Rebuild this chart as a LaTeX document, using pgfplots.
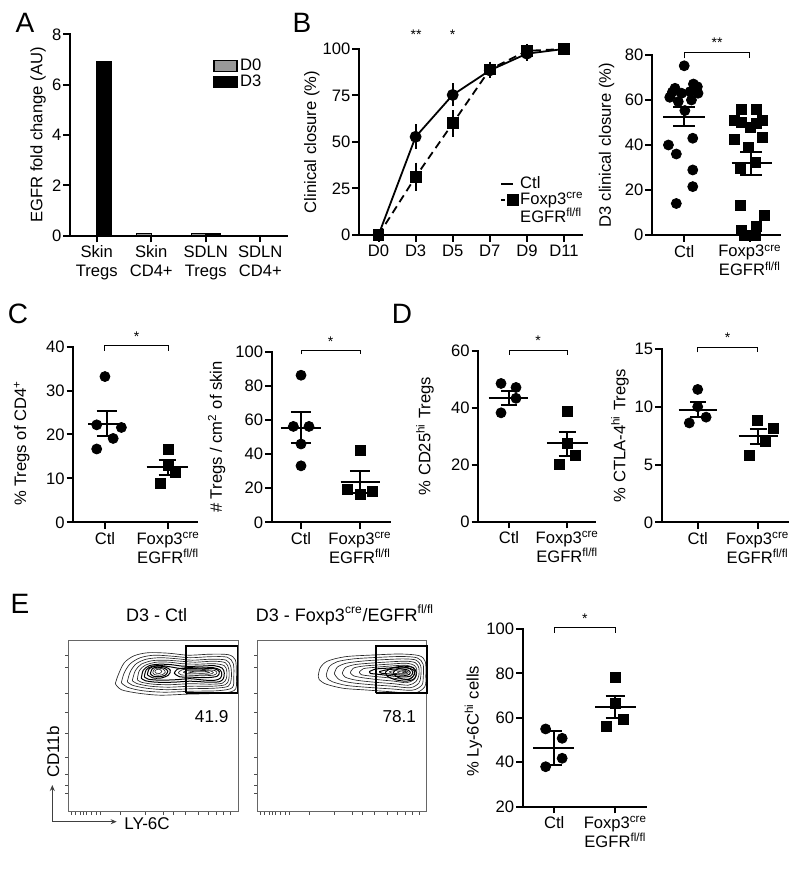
\documentclass[border=0pt]{standalone}
\usepackage{fontspec}
\setmainfont{Liberation Sans}
\usepackage{pgfplots}
\pgfplotsset{compat=1.18}
\usetikzlibrary{arrows.meta}
\newcommand{\tf}{\fontsize{8.3}{9.5}\selectfont}
\pgfplotsset{
  prism/.style={
    scale only axis, clip=false, unbounded coords=jump,
    axis lines=left,
    axis line style={-, line width=1pt, line cap=rect},
    tick align=outside, major tick length=3.3pt,
    tick style={black, line width=1pt},
    tick label style={font=\tf},
    yticklabel style={inner sep=0.8pt},
    xticklabel style={inner sep=1.5pt},
    /pgf/number format/assume math mode=true,
    label style={font=\tf},
  },
  prismcat/.style={prism, xtick={0,1},
    xticklabels={Ctl,{Foxp3\textsuperscript{cre}\\EGFR\textsuperscript{fl/fl}}},
    xticklabel style={align=center}},
  pts/.style={only marks, mark=*, mark size=2.5pt, black, forget plot},
  sqs/.style={only marks, mark=square*, mark size=2.5pt, black, forget plot},
  msem/.style={black, line width=1pt, mark=none, forget plot},
  brk/.style={black, line width=0.5pt, mark=none, forget plot},
  ctr/.style={black!85, line width=0.33pt, smooth, mark=none, forget plot},
  ctrd/.style={black, line width=0.5pt, smooth, mark=none, forget plot},
  facs/.style={scale only axis, clip=false, axis line style={black!60, line width=0.5pt},
    tick align=outside, major tick length=1.6pt, tick style={black!70, line width=0.4pt},
    xtick pos=bottom, ytick pos=left, xticklabels={}, yticklabels={},
    ytick={19.4,27,38.7,55,79.4,100,119.4,145.4,157.7},
    xtick={3.4,6.7,11.7,15,18.4,23.4,28.4,31.7,52,76.7,95,105,116.7,130,140,148,155,162}},
}
\begin{document}
\begin{tikzpicture}[x=0.5pt,y=0.5pt]
\useasboundingbox (0,0) rectangle (800,869);
% panel letters
\node[font=\fontsize{14}{16}\selectfont] at (25,869-23) {A};
\node[font=\fontsize{14}{16}\selectfont] at (302,869-23) {B};
\node[font=\fontsize{14}{16}\selectfont] at (18,869-314) {C};
\node[font=\fontsize{14}{16}\selectfont] at (402,869-314) {D};
\node[font=\fontsize{14}{16}\selectfont] at (20,869-604) {E};

% ---------------- A ----------------
\begin{axis}[prism, at={(35pt,316.65pt)}, anchor=south west, width=108.5pt, height=100.7pt,
  xmin=-0.49, xmax=3.49, ymin=0, ymax=8, ytick={0,2,4,6,8},
  xtick={0,1,2,3}, xticklabels={{Skin\\Tregs},{Skin\\CD4+},{SDLN\\Tregs},{SDLN\\CD4+}},
  xticklabel style={align=center},
  ybar=0pt, bar width=7.25pt,
  ylabel={EGFR fold change (AU)}, ylabel style={at={(axis description cs:-0.147,0.5)},anchor=center},
  legend image code/.code={\draw[#1] (0pt,-2.75pt) rectangle (11.5pt,2.75pt);},
  legend cell align=left,
  legend style={draw=none, fill=none, at={(axis cs:2.134,7.15)}, anchor=north west,
    font=\tf, row sep=-1.5pt, inner sep=0pt, nodes={inner sep=1.2pt}}]
\addplot[fill=black!40, draw=black, line width=0.6pt] coordinates {(0,0)(1,0.08)(2,0.08)(3,0)};
\addplot[fill=black, draw=black, line width=0.6pt] coordinates {(0,6.9)(1,0)(2,0.08)(3,0)};
\legend{D0,D3}
\end{axis}

% ---------------- B left ----------------
\begin{axis}[prism, at={(179.5pt,317pt)}, anchor=south west, width=111.5pt, height=93pt,
  xmin=-0.526, xmax=5.485, ymin=0, ymax=100, ytick={0,25,50,75,100},
  xtick={0,1,2,3,4,5}, xticklabels={D0,D3,D5,D7,D9,D11},
  ylabel={Clinical closure (\%)}, ylabel style={at={(axis description cs:-0.211,0.5)},anchor=center},
  legend image code/.code={\draw[mark repeat=2, mark phase=2, #1] plot coordinates {(0pt,0pt) (5.8pt,0pt)};},
  legend cell align=left,
  legend style={draw=none, fill=none, at={(axis description cs:0.632,0.33)}, anchor=north west,
    font=\tf, row sep=-2pt, inner sep=0pt, nodes={inner sep=1.2pt}}]
\addlegendimage{black, line width=0.9pt}
\addlegendentry{Ctl}
\addlegendimage{black, line width=0.9pt, dash pattern=on 2pt off 1.2pt, mark=square*, mark size=2.5pt, mark options={solid}}
\addlegendentry{Foxp3\textsuperscript{cre}}
\addlegendimage{empty legend}
\addlegendentry{EGFR\textsuperscript{fl/fl}}
\addplot[black, line width=0.9pt, dash pattern=on 4pt off 2.5pt, mark=square*, mark size=2.5pt, mark options={solid}, forget plot,
  error bars/.cd, y dir=both, y explicit, error bar style={solid, line width=0.9pt}, error mark options={solid, line width=0.9pt, mark size=2.5pt}]
  coordinates {(0,0) +- (0,0) (1,31.3) +- (0,4.9) (2,60) +- (0,4.5) (3,89) +- (0,1.5) (4,99) +- (0,1) (5,100) +- (0,0)};
\addplot[black, line width=0.9pt, mark=*, mark size=2.5pt, forget plot,
  error bars/.cd, y dir=both, y explicit, error bar style={line width=0.9pt}, error mark options={line width=0.9pt, mark size=2.5pt}]
  coordinates {(0,0) +- (0,0) (1,52.8) +- (0,4) (2,75.3) +- (0,3.5) (3,88.5) +- (0,1.5) (4,97.5) +- (0,1.2) (5,100) +- (0,0)};
\end{axis}
\node[font=\fontsize{7}{8}\selectfont] at (416,869-35) {**};
\node[font=\fontsize{7}{8}\selectfont] at (452.7,869-35) {*};

% ---------------- B right ----------------
\begin{axis}[prismcat, at={(326pt,317pt)}, anchor=south west, width=64pt, height=90pt,
  xmin=-0.49, xmax=1.457, ymin=0, ymax=80, ytick={0,20,40,60,80},
  ylabel={D3 clinical closure (\%)}, ylabel style={at={(axis description cs:-0.354,0.5)},anchor=center}]
\addplot[pts] coordinates {(0,75.2)(-0.14,65.2)(0.14,67.1)(-0.22,61.2)(-0.04,63)(0.09,63.7)(0.21,63)
  (-0.09,59.3)(0.11,60)(0.01,55.3)(0.2,65.9)(-0.18,63.5)(-0.24,40)(-0.12,36)(0.13,43)(0.13,28.9)(0.13,21.5)(-0.12,14)};
\addplot[sqs] coordinates {(0.87,55.9)(1.1,55.9)(0.77,51.1)(0.87,50)(1.0,47.7)(1.1,49.5)(1.19,51.1)
  (0.77,42.5)(1.19,43.3)(0.97,39)(1.09,32.1)(0.85,29.6)(0.85,13)(1.22,8.8)(1.1,3.7)(0.87,2.2)(0.92,0)(1.0,0)(1.08,0)};
\addplot[msem] coordinates {(-0.32,52.6)(0.32,52.6)(nan,nan)(0,48.4)(0,57)(nan,nan)(-0.17,57)(0.17,57)(nan,nan)(-0.17,48.4)(0.17,48.4)};
\addplot[msem] coordinates {(0.72,31.9)(1.33,31.9)(nan,nan)(1.02,26.7)(1.02,37)(nan,nan)(0.85,37)(1.19,37)(nan,nan)(0.85,26.7)(1.19,26.7)};
\addplot[brk] coordinates {(0,78.5)(0,81.2)(1,81.2)(1,78.5)};
\node[font=\fontsize{7}{8}\selectfont] at (axis cs:0.5,85.5) {**};
\end{axis}

% ---------------- C left ----------------
\begin{axis}[prismcat, at={(36.65pt,173.35pt)}, anchor=south west, width=61.7pt, height=87.8pt,
  xmin=-0.5, xmax=1.45, ymin=0, ymax=40, ytick={0,10,20,30,40},
  ylabel={\% Tregs of CD4\textsuperscript{+}}, ylabel style={at={(axis description cs:-0.418,0.45)},anchor=center}]
\addplot[pts] coordinates {(0,33.2)(-0.13,22.2)(0.26,21.6)(0.13,19.1)(-0.13,16.7)};
\addplot[sqs] coordinates {(1,16.7)(1,12.9)(1.12,11.4)(0.87,8.9)};
\addplot[msem] coordinates {(-0.26,22.5)(0.32,22.5)(nan,nan)(0.03,19.7)(0.03,25.3)(nan,nan)(-0.13,25.3)(0.19,25.3)(nan,nan)(-0.13,19.7)(0.19,19.7)};
\addplot[msem] coordinates {(0.66,12.5)(1.32,12.5)(nan,nan)(0.99,10.8)(0.99,14.2)(nan,nan)(0.85,14.2)(1.13,14.2)(nan,nan)(0.85,10.8)(1.13,10.8)};
\addplot[brk] coordinates {(0,39.1)(0,40.2)(1,40.2)(1,39.1)};
\node[font=\fontsize{7}{8}\selectfont] at (axis cs:0.5,42.3) {*};
\end{axis}

% ---------------- C right ----------------
\begin{axis}[prismcat, at={(135.85pt,173.35pt)}, anchor=south west, width=59.15pt, height=85.3pt,
  xmin=-0.497, xmax=1.508, ymin=0, ymax=100, ytick={0,20,40,60,80,100},
  ylabel={\# Tregs / cm\textsuperscript{2} of skin}, ylabel style={at={(axis description cs:-0.465,0.5)},anchor=center}]
\addplot[pts] coordinates {(0,86.2)(-0.13,56.2)(0.135,56.2)(0,45.9)(0,33.1)};
\addplot[sqs] coordinates {(1,41.9)(0.79,19)(1,16.1)(1.215,18)};
\addplot[msem] coordinates {(-0.34,55.3)(0.34,55.3)(nan,nan)(0,46.5)(0,64.5)(nan,nan)(-0.17,64.5)(0.17,64.5)(nan,nan)(-0.17,46.5)(0.17,46.5)};
\addplot[msem] coordinates {(0.67,23.5)(1.34,23.5)(nan,nan)(1.0,17)(1.0,29.8)(nan,nan)(0.83,29.8)(1.17,29.8)(nan,nan)(0.83,17)(1.17,17)};
\addplot[brk] coordinates {(0,98.4)(0,100.9)(1,100.9)(1,98.4)};
\node[font=\fontsize{7}{8}\selectfont] at (axis cs:0.5,106) {*};
\end{axis}

% ---------------- D left ----------------
\begin{axis}[prismcat, at={(239.15pt,173.65pt)}, anchor=south west, width=58.35pt, height=85.5pt,
  xmin=-0.527, xmax=1.475, ymin=0, ymax=60, ytick={0,20,40,60},
  ylabel={\% CD25\textsuperscript{hi} Tregs}, ylabel style={at={(axis description cs:-0.457,0.5)},anchor=center}]
\addplot[pts] coordinates {(-0.137,48.5)(0.12,47.1)(0.12,43.3)(-0.137,38.2)};
\addplot[sqs] coordinates {(1,38.8)(1,27.3)(1.144,23.2)(0.863,20.2)};
\addplot[msem] coordinates {(-0.35,43.5)(0.33,43.5)(nan,nan)(0,41)(0,46)(nan,nan)(-0.14,46)(0.14,46)(nan,nan)(-0.14,41)(0.14,41)};
\addplot[msem] coordinates {(0.65,27.5)(1.35,27.5)(nan,nan)(1.0,23.2)(1.0,31.3)(nan,nan)(0.85,31.3)(1.15,31.3)(nan,nan)(0.85,23.2)(1.15,23.2)};
\addplot[brk] coordinates {(0,58.5)(0,60.2)(1,60.2)(1,58.5)};
\node[font=\fontsize{7}{8}\selectfont] at (axis cs:0.5,63.5) {*};
\end{axis}

% ---------------- D right ----------------
\begin{axis}[prismcat, at={(330.85pt,173.35pt)}, anchor=south west, width=63.3pt, height=86.65pt,
  xmin=-0.6, xmax=1.51, ymin=0, ymax=15, ytick={0,5,10,15},
  ylabel={\% CTLA-4\textsuperscript{hi} Tregs}, ylabel style={at={(axis description cs:-0.329,0.5)},anchor=center}]
\addplot[pts] coordinates {(0,11.5)(0,10.0)(0.14,9.1)(-0.14,8.6)};
\addplot[sqs] coordinates {(1,8.8)(1.26,8.1)(1.12,7.0)(0.86,5.8)};
\addplot[msem] coordinates {(-0.32,9.72)(0.32,9.72)(nan,nan)(0,9.1)(0,10.4)(nan,nan)(-0.13,10.4)(0.13,10.4)(nan,nan)(-0.13,9.1)(0.13,9.1)};
\addplot[msem] coordinates {(0.68,7.43)(1.34,7.43)(nan,nan)(1.01,6.75)(1.01,8.1)(nan,nan)(0.87,8.1)(1.15,8.1)(nan,nan)(0.87,6.75)(1.15,6.75)};
\addplot[brk] coordinates {(0,14.7)(0,15.1)(1,15.1)(1,14.7)};
\node[font=\fontsize{7}{8}\selectfont] at (axis cs:0.5,16) {*};
\end{axis}

% ---------------- E scatter ----------------
\begin{axis}[prismcat, at={(261.35pt,31.15pt)}, anchor=south west, width=61.65pt, height=88.85pt,
  xmin=-0.515, xmax=1.5, ymin=20, ymax=100, ytick={20,40,60,80,100},
  ylabel={\% Ly-6C\textsuperscript{hi} cells}, ylabel style={at={(axis description cs:-0.4,0.48)},anchor=center}]
\addplot[pts] coordinates {(-0.14,55)(0.13,50.8)(0.13,41.8)(-0.14,38)};
\addplot[sqs] coordinates {(1,78.1)(1,66.5)(1.125,59.3)(0.86,56.3)};
\addplot[msem] coordinates {(-0.34,46.3)(0.32,46.3)(nan,nan)(-0.01,38.8)(-0.01,54.2)(nan,nan)(-0.15,54.2)(0.13,54.2)(nan,nan)(-0.15,38.8)(0.13,38.8)};
\addplot[msem] coordinates {(0.67,65)(1.33,65)(nan,nan)(1,60)(1,70)(nan,nan)(0.84,70)(1.16,70)(nan,nan)(0.84,60)(1.16,60)};
\addplot[brk] coordinates {(0,98.4)(0,100.6)(1,100.6)(1,98.4)};
\node[font=\fontsize{7}{8}\selectfont] at (axis cs:0.5,104.5) {*};
\end{axis}

% ---------------- E FACS 1 ----------------
\node[font=\fontsize{9}{10}\selectfont] at (156.7,869-615) {D3 - Ctl};
\begin{axis}[facs, at={(34.15pt,28.75pt)}, anchor=south west, width=85pt, height=85.5pt,
  xmin=0, xmax=170, ymin=1.2, ymax=172.2]
\addplot[ctr] coordinates {(47,129) (50,138) (56,150) (66,157) (80,160) (100,159.5) (120,157.5) (142,158.5) (160,158) (167,153) (168,140) (167.5,124) (158,120) (140,119) (118,118.5) (92,117.5) (70,119.5) (53,123) (47,129)};
\addplot[ctr] coordinates {(53,130) (56,140) (62,149) (72,155) (86,157.5) (104,156.5) (122,155) (142,156) (159,155.5) (165,149) (165.5,136) (164,125) (150,122) (124,121.5) (96,120.5) (74,122) (59,125.5) (53,130)};
\addplot[ctr] coordinates {(59,131) (62,141) (68,149) (78,153.5) (92,155) (108,154) (124,152.5) (143,153.5) (158,152.5) (162.5,146) (163,134) (160,126.5) (146,124.5) (124,124) (98,123) (78,124.5) (64,127.5) (59,131)};
\addplot[ctr] coordinates {(64,132) (67,142) (73,148.5) (84,152) (98,152.5) (112,151.5) (127,150.5) (145,151.5) (157,150) (160.5,143.5) (160.5,133.5) (157,128) (144,126.5) (123,126.5) (100,125.5) (82,126.5) (69,129) (64,132)};
\addplot[ctr] coordinates {(69,133) (71,142) (77,147.5) (88,150.5) (101,150.5) (114,149) (129,148.5) (146,149) (156,147) (158.5,141.5) (158,134) (154,129.5) (142,128.5) (122,129) (102,128) (85,128.5) (73,130.5) (69,133)};
\addplot[ctrd] coordinates {(73,134.5) (75,142.5) (81,147) (91,148.5) (103,148) (115,146.5) (130,146.5) (146,147) (154,144.5) (156,139.5) (155,134) (151,131) (140,130.5) (122,131.5) (105,130.5) (88,130.5) (77,132) (73,134.5)};
\addplot[ctrd] coordinates {(76,136) (78,143) (84,146.5) (94,147) (104,145.5) (114,144) (130,144.5) (145,145) (152,142.5) (153.5,138.5) (152,134.5) (147,132.5) (137,132.5) (122,134) (108,133) (92,132.5) (80,133.5) (76,136)};
\addplot[ctrd] coordinates {(79,138) (81,144) (87,146.5) (96,146) (102,142.5) (100,137.5) (92,134.5) (84,135) (79,138)};
\addplot[ctrd] coordinates {(82,139) (84,144) (89,145.5) (96,144.5) (99.5,141.5) (97,137.5) (91,136) (85,136.5) (82,139)};
\addplot[ctr] coordinates {(84.5,140) (86,143.5) (90,144.5) (95,143.5) (97,140.5) (94,138) (89.5,137.5) (86,138.3) (84.5,140)};
\addplot[ctr] coordinates {(86.5,141) (88,143) (91.5,143.3) (93.5,141) (91,139.2) (88,139.5) (86.5,141)};
\addplot[ctrd] coordinates {(106,139.5) (109,143.5) (120,145) (134,144.5) (146,144) (151,141) (149,136.5) (138,135) (124,135.5) (111,136) (106,139.5)};
\addplot[ctr] coordinates {(110,140) (114,143) (126,143.5) (139,143) (147,142) (148.5,139.5) (145,137.5) (134,137) (122,137.5) (113,137.8) (110,140)};
\addplot[ctr] coordinates {(115,140.5) (120,142.3) (131,142.3) (142,141.8) (145,140) (141,138.5) (130,138.8) (119,139) (115,140.5)};
\addplot[ctr] coordinates {(120,140.6) (128,141.5) (138,141.2) (141,140.2) (136,139.5) (126,139.7) (120,140.6)};
\addplot[black, line width=0.8pt, mark=none, forget plot] coordinates {(117.7,119.4)(117.7,166.7)(169.4,166.7)(169.4,119.4)(117.7,119.4)};
\node[font=\fontsize{8.6}{10}\selectfont] at (axis cs:143.4,96.2) {41.9};
\end{axis}

% ---------------- E FACS 2 ----------------
\node[font=\fontsize{9}{10}\selectfont] at (345,869-615) {D3 - Foxp3\textsuperscript{cre}/EGFR\textsuperscript{fl/fl}};
\begin{axis}[facs, at={(128.65pt,28.75pt)}, anchor=south west, width=84.7pt, height=85.5pt,
  xmin=0, xmax=169.4, ymin=1.2, ymax=172.2]
\addplot[ctr] coordinates {(61,137) (63,145) (70,151.5) (88,156) (116,157.7) (143,158.7) (162,157) (168,151) (168.5,137) (167.5,126) (157,119.5) (133,121) (109,122.7) (86,124.4) (69,128.5) (62,133) (61,137)};
\addplot[ctr] coordinates {(69,138) (72,146) (80,151) (96,153.8) (118,155.2) (144,156.2) (160,154.8) (165.8,148.5) (166,136) (164.5,127.5) (155,122.5) (134,123.8) (111,125.3) (89,127.3) (75,131) (70,134.5) (69,138)};
\addplot[ctr] coordinates {(77,139) (80,145.5) (89,149.5) (104,151.5) (122,152.8) (146,153.8) (159,152.5) (163.5,146.5) (163.5,136.5) (161.5,129.5) (153,125) (135,126.5) (114,128) (94,130) (82,133) (77,139)};
\addplot[ctr] coordinates {(85,139.5) (88,145) (97,148) (110,149.3) (127,150.5) (148,151.5) (158,150) (161.5,145) (161.5,137) (158.5,131) (151,127.5) (136,129) (117,130.5) (99,132.5) (88,135.5) (85,139.5)};
\addplot[ctr] coordinates {(93,140) (96,144.5) (105,146.5) (118,147.6) (133,148.6) (149,149.5) (157,147.3) (159.5,143) (159,137) (156,132.5) (149,130) (137,131.5) (121,133) (105,135) (96,137) (93,140)};
\addplot[ctr] coordinates {(102,140.5) (106,144) (117,145.3) (131,146.5) (148,147.5) (155,145.5) (157.5,141.5) (156,137) (151,133.5) (141,134) (127,135.3) (112,136.8) (104,138) (102,140.5)};
\addplot[ctrd] coordinates {(112,141) (118,143.6) (131,144.6) (146,145.6) (153,143.8) (155.5,140.3) (153,136.5) (145,135.8) (133,137) (120,138.5) (113,139.3) (112,141)};
\addplot[ctrd] coordinates {(122,141) (130,143) (143,143.8) (151,142.5) (153,139.8) (150,137.5) (141,137.8) (131,138.8) (124,139.5) (122,141)};
\addplot[ctrd] coordinates {(128,140.5) (134,144.5) (146,146.5) (156,145) (159,140) (157,134) (149,131.5) (138,133) (130,136.5) (128,140.5)};
\addplot[ctrd] coordinates {(136,140.5) (141,144) (150,144.8) (156.5,142.5) (157,138) (152.5,133.5) (144,134) (138,137) (136,140.5)};
\addplot[ctr] coordinates {(132,141) (139,142.5) (148,142.3) (151,140.5) (148.5,138.6) (141,139) (134,139.7) (132,141)};
\addplot[ctr] coordinates {(140,140.8) (146,141.8) (149.5,140.6) (147.5,139.3) (142,139.6) (140,140.8)};
\addplot[ctr] coordinates {(145,140.6) (148,141.2) (149,140.3) (147,139.8) (145,140.6)};
\addplot[black, line width=0.8pt, mark=none, forget plot] coordinates {(118.4,119.4)(118.4,166.7)(169.4,166.7)(169.4,119.4)(118.4,119.4)};
\node[font=\fontsize{8.6}{10}\selectfont] at (axis cs:142,96.2) {78.1};
\end{axis}

% FACS axis arrows
\draw[-{Stealth[length=3pt,width=2.5pt]}, line width=0.5pt, black!75] (52.3,869-821.7) -- (52.3,869-785);
\draw[-{Stealth[length=3pt,width=2.5pt]}, line width=0.5pt, black!75] (52.3,869-821.7) -- (116.7,869-821.7);
\node[font=\fontsize{8.5}{10}\selectfont] at (147,869-824) {LY-6C};
\node[font=\fontsize{8.5}{10}\selectfont, rotate=90] at (53,869-752) {CD11b};
\end{tikzpicture}
\end{document}
